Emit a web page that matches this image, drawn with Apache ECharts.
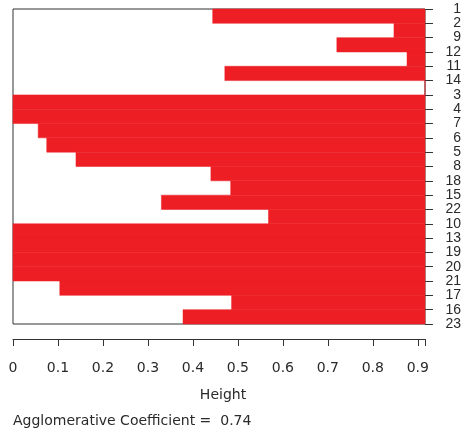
<!DOCTYPE html>
<html>
<head>
<meta charset="utf-8">
<script src="https://cdn.jsdelivr.net/npm/echarts@6/dist/echarts.min.js"></script>
<style>html,body{margin:0;padding:0;background:#fff}#c{width:471px;height:432px}</style>
</head>
<body>
<div id="c"></div>
<script>
// Observation order (banner labels, top to bottom)
const obsLabels = ['1','2','9','12','11','14','3','4','7','6','5','8','18','15','22','10','13','19','20','21','17','16','23'];
// Merge heights between consecutive observations
const mergeHeights = [0.444,0.847,0.72,0.876,0.471,0.916,0,0,0.056,0.075,0.14,0.44,0.484,0.33,0.568,0,0,0,0,0.104,0.486,0.378];
const maxHeight = 0.916;
const xTickValues = [0,0.1,0.2,0.3,0.4,0.5,0.6,0.7,0.8,0.9];
const coefText = 'Agglomerative Coefficient =  0.74';

const RED = '#ED1F24';
const TXT = '#2a2a2a';
const FONT = 'Liberation Sans';
const WIDE = 'DejaVu Sans';

const chart = echarts.init(document.getElementById('c'));
chart.setOption({
  animation: false,
  backgroundColor: '#fff',
  textStyle: {fontFamily: FONT},
  title: [
    {text: 'Height', left: 218, top: 383, textAlign: 'center',
     textStyle: {fontSize: 14, fontWeight: 'normal', color: TXT, fontFamily: WIDE}},
    {text: coefText, left: 8, top: 409,
     textStyle: {fontSize: 14, fontWeight: 'normal', color: TXT, fontFamily: WIDE}}
  ],
  grid: {left: 13, right: 46, top: 9, bottom: 108, show: true, borderColor: '#333', borderWidth: 1, backgroundColor: '#fff'},
  xAxis: {
    type: 'value', min: 0, max: maxHeight, interval: 0.1, offset: 15, position: 'bottom',
    axisLine: {show: true, onZero: false, lineStyle: {color: '#333', width: 1}},
    axisTick: {show: true, length: 7, lineStyle: {color: '#333'}},
    splitLine: {show: false},
    axisLabel: {
      margin: 22, fontSize: 14, color: TXT, fontFamily: WIDE,
      showMinLabel: true, showMaxLabel: true,
      formatter: v => {
        const m = xTickValues.find(t => Math.abs(t - v) < 1e-6);
        return m === undefined ? '' : String(m);
      }
    }
  },
  yAxis: {
    type: 'value', min: 0, max: obsLabels.length - 1, interval: 1, inverse: true, position: 'right',
    axisLine: {show: false, onZero: false},
    axisTick: {show: true, length: 8, lineStyle: {color: '#333'}},
    splitLine: {show: false},
    axisLabel: {
      align: 'right', margin: 36, fontSize: 14, color: TXT, fontFamily: FONT,
      padding: [3, 0, 0, 0],
      formatter: v => obsLabels[v] || ''
    }
  },
  series: [{
    type: 'custom',
    encode: {x: 1, y: 0},
    data: mergeHeights.map((h, i) => [i, h]),
    renderItem: (params, api) => {
      const i = api.value(0), h = api.value(1);
      const p0 = api.coord([h, i]);
      const p1 = api.coord([maxHeight, i + 1]);
      return {
        type: 'rect',
        shape: {x: p0[0], y: Math.min(p0[1], p1[1]), width: p1[0] - p0[0], height: Math.abs(p1[1] - p0[1])},
        style: {fill: RED, stroke: RED, lineWidth: 0.5}
      };
    }
  }]
});
</script>
</body>
</html>
